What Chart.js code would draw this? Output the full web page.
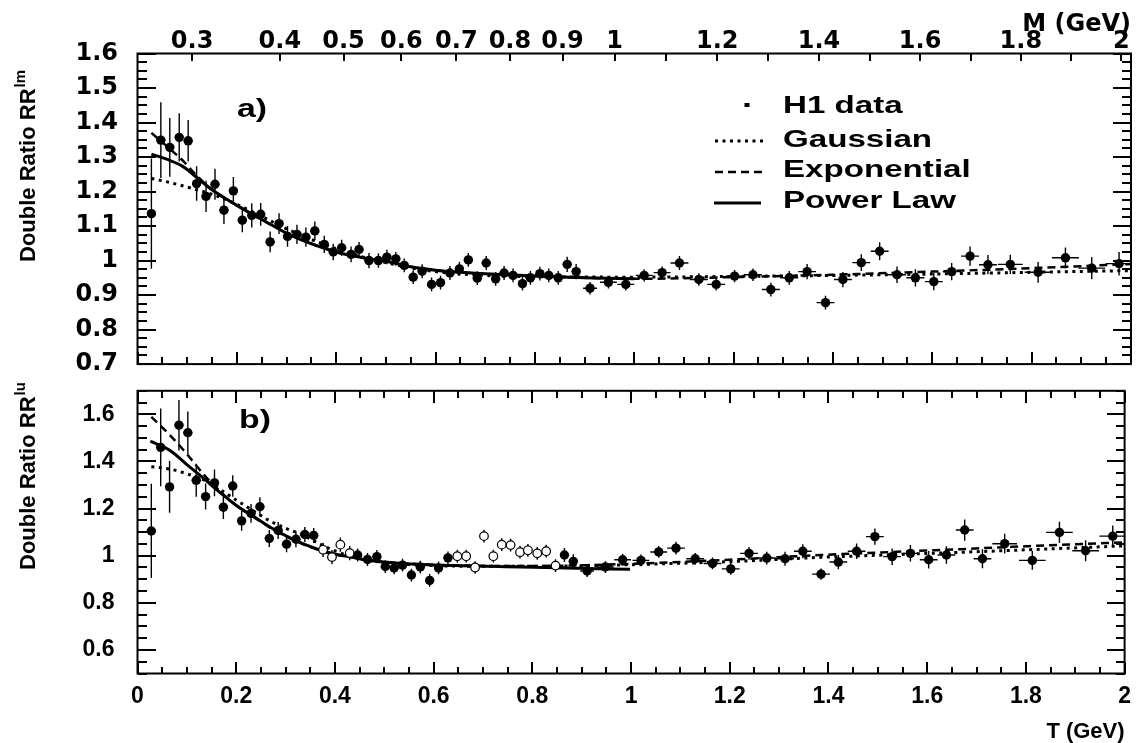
<!DOCTYPE html>
<html>
<head>
<meta charset="utf-8">
<script src="https://cdn.jsdelivr.net/npm/chart.js@4"></script>
<style>
html, body { margin: 0; padding: 0; background: #fff; }
#wrap { position: relative; width: 1140px; height: 743px; overflow: hidden; }
#ca { position: absolute; left: 0; top: 0; }
#cb { position: absolute; left: 0; top: 354px; }
</style>
</head>
<body>
<div id="wrap">
  <canvas id="ca" width="1140" height="398"></canvas>
  <canvas id="cb" width="1140" height="389"></canvas>
</div>
<script>
// bin centres in T (GeV) and half widths, shared by both panels
var tBin = [0.028,0.047,0.065,0.084,0.102,0.119,0.138,0.156,0.174,0.193,
            0.211,0.230,0.248,0.267,0.285,0.302,0.321,0.339,0.357,0.376,
            0.394,0.411,0.430,0.446,0.466,0.485,0.502,0.520,0.537,0.555,
            0.573,0.592,0.610,0.629,0.648,0.666,0.684,0.702,0.721,0.738,
            0.756,0.775,0.791,0.810,0.828,0.847,0.865,0.883,0.911,0.948,
            0.983,1.020,1.056,1.091,1.130,1.165,1.202,1.239,1.275,1.312,
            1.348,1.385,1.420,1.457,1.494,1.529,1.566,1.603,1.639,1.676,
            1.712,1.757,1.813,1.868,1.921,1.976];
var tHalf = [0.009,0.009,0.009,0.009,0.009,0.009,0.009,0.009,0.009,0.009,
             0.009,0.009,0.009,0.009,0.009,0.009,0.009,0.009,0.009,0.009,
             0.009,0.009,0.009,0.009,0.009,0.009,0.009,0.009,0.009,0.009,
             0.009,0.009,0.009,0.009,0.009,0.009,0.009,0.009,0.009,0.009,
             0.009,0.009,0.009,0.009,0.009,0.009,0.009,0.009,0.014,0.017,
             0.017,0.017,0.017,0.018,0.018,0.018,0.018,0.018,0.018,0.018,
             0.018,0.018,0.018,0.018,0.018,0.018,0.018,0.018,0.018,0.018,
             0.018,0.025,0.027,0.027,0.027,0.027];

// panel a) RR^lm
var rrLm = [1.136,1.349,1.328,1.357,1.347,1.223,1.186,1.221,1.146,1.202,
            1.117,1.131,1.134,1.054,1.107,1.070,1.076,1.068,1.086,1.047,
            1.025,1.037,1.018,1.032,1.000,1.000,1.010,1.005,0.986,0.952,
            0.969,0.931,0.936,0.964,0.976,1.002,0.949,0.993,0.947,0.964,
            0.957,0.933,0.950,0.962,0.957,0.950,0.989,0.968,0.920,0.937,
            0.931,0.957,0.965,0.993,0.945,0.931,0.955,0.959,0.916,0.950,
            0.968,0.878,0.945,0.994,1.027,0.959,0.950,0.939,0.968,1.013,
            0.988,0.989,0.966,1.008,0.978,0.991];
var rrLmErr = [0.16,0.11,0.085,0.07,0.06,0.05,0.045,0.045,0.04,0.04,
               0.035,0.035,0.033,0.03,0.03,0.03,0.028,0.028,0.027,0.025,
               0.024,0.023,0.023,0.022,0.022,0.021,0.021,0.02,0.02,0.02,
               0.02,0.02,0.02,0.02,0.02,0.02,0.02,0.02,0.02,0.02,
               0.02,0.02,0.02,0.02,0.02,0.02,0.022,0.022,0.018,0.018,
               0.018,0.018,0.018,0.02,0.018,0.018,0.018,0.018,0.02,0.02,
               0.022,0.02,0.022,0.024,0.026,0.024,0.025,0.025,0.025,0.028,
               0.028,0.028,0.03,0.03,0.032,0.034];

// panel b) RR^lu, open = 1 for the hollow markers
var rrLu = [1.105,1.460,1.292,1.554,1.522,1.320,1.251,1.309,1.206,1.296,
            1.148,1.180,1.208,1.073,1.107,1.049,1.070,1.090,1.086,1.025,
            0.994,1.047,1.011,1.003,0.984,0.996,0.954,0.948,0.960,0.918,
            0.952,0.895,0.948,0.991,0.998,0.998,0.950,1.083,0.998,1.047,
            1.045,1.015,1.023,1.010,1.019,0.958,1.003,0.976,0.935,0.952,
            0.983,0.980,1.016,1.032,0.987,0.967,0.944,1.010,0.990,0.987,
            1.019,0.922,0.973,1.019,1.081,0.996,1.010,0.983,1.003,1.109,
            0.987,1.051,0.980,1.099,1.021,1.083];
var rrLuErr = [0.2,0.165,0.11,0.107,0.09,0.07,0.055,0.057,0.05,0.046,
               0.042,0.04,0.04,0.036,0.036,0.034,0.034,0.032,0.032,0.03,
               0.03,0.03,0.03,0.028,0.028,0.028,0.027,0.027,0.027,0.027,
               0.027,0.027,0.027,0.027,0.027,0.027,0.027,0.027,0.027,0.027,
               0.027,0.027,0.027,0.027,0.027,0.027,0.03,0.03,0.025,0.025,
               0.025,0.025,0.025,0.027,0.025,0.025,0.025,0.027,0.027,0.03,
               0.03,0.024,0.03,0.033,0.035,0.035,0.035,0.037,0.037,0.045,
               0.04,0.042,0.04,0.045,0.045,0.045];
var luOpen = [0,0,0,0,0,0,0,0,0,0, 0,0,0,0,0,0,0,0,0,1,
              1,1,1,0,0,0,0,0,0,0, 0,0,0,0,1,1,1,1,1,1,
              1,1,1,1,1,1,0,0,0,0, 0,0,0,0,0,0,0,0,0,0,
              0,0,0,0,0,0,0,0,0,0, 0,0,0,0,0,0];

// fitted curves
var gaussLmT = [0.028,0.06,0.1,0.154,0.2,0.25,0.3,0.35,0.4,0.45,0.5,0.55,0.6,0.7,0.8,1.0,1.2,1.4,1.6,1.8,2.0];
var gaussLm  = [1.238,1.228,1.213,1.19,1.163,1.128,1.092,1.061,1.034,1.012,0.994,0.979,0.968,0.957,0.953,0.952,0.954,0.957,0.961,0.966,0.971];
var expoLmT  = [0.028,0.06,0.091,0.12,0.15,0.2,0.235,0.27,0.302,0.335,0.369,0.4,0.436,0.47,0.503,0.55,0.6,0.65,0.72,0.8,0.9,1.0,1.2,1.4,1.6,1.8,2.0];
var expoLm   = [1.37,1.33,1.29,1.245,1.205,1.16,1.131,1.103,1.078,1.057,1.039,1.025,1.013,1.004,0.997,0.982,0.972,0.966,0.96,0.955,0.95,0.947,0.952,0.959,0.968,0.978,0.99];
var powerLmT = [0.028,0.06,0.091,0.12,0.15,0.2,0.235,0.27,0.302,0.335,0.369,0.4,0.436,0.47,0.503,0.55,0.6,0.65,0.72,0.8,0.9,1.0];
var powerLm  = [1.308,1.293,1.273,1.24,1.205,1.16,1.131,1.103,1.078,1.057,1.039,1.025,1.013,1.004,0.997,0.982,0.972,0.966,0.96,0.955,0.95,0.947];

var gaussLuT = [0.028,0.067,0.1,0.134,0.168,0.201,0.235,0.268,0.302,0.335,0.369,0.402,0.436,0.47,0.537,0.6,0.7,0.8,0.9,1.0,1.2,1.385,1.635,1.8,2.0];
var gaussLu  = [1.378,1.367,1.348,1.322,1.28,1.235,1.19,1.148,1.115,1.088,1.05,1.019,0.995,0.98,0.965,0.958,0.955,0.955,0.957,0.962,0.975,0.993,1.012,1.025,1.042];
var expoLuT  = [0.028,0.067,0.1,0.134,0.168,0.201,0.235,0.268,0.302,0.335,0.369,0.402,0.436,0.47,0.537,0.643,0.777,0.911,1.02,1.2,1.385,1.635,1.8,2.0];
var expoLu   = [1.589,1.509,1.432,1.345,1.272,1.212,1.165,1.12,1.081,1.049,1.023,1.005,0.992,0.981,0.968,0.959,0.956,0.96,0.967,0.983,1.003,1.025,1.04,1.057];
var powerLuT = [0.026,0.067,0.1,0.134,0.168,0.201,0.235,0.268,0.302,0.335,0.369,0.402,0.436,0.47,0.537,0.643,0.777,0.911,0.998];
var powerLu  = [1.486,1.445,1.387,1.328,1.267,1.212,1.167,1.122,1.083,1.051,1.025,1.006,0.993,0.98,0.967,0.958,0.952,0.946,0.942];

// axis labels
var tLabels = [0,0.2,0.4,0.6,0.8,1,1.2,1.4,1.6,1.8,2];
var yLabelsLm = [0.7,0.8,0.9,1,1.1,1.2,1.3,1.4,1.5,1.6];
var yLabelsLu = [0.6,0.8,1,1.2,1.4,1.6];
var mLabels = [0.3,0.4,0.5,0.6,0.7,0.8,0.9,1,1.2,1.4,1.6,1.8,2];
var mMinor = [1.1,1.3,1.5,1.7,1.9];
var mPi = 0.13957;

function mToT(m) { return Math.sqrt(m * m - 4 * mPi * mPi); }

function points(xs, ys, es, hs, keep) {
    var out = [];
    xs.forEach(function (x, i) {
        if (keep && !keep(i)) return;
        out.push({ x: x, y: ys[i], ey: es[i], ex: hs[i] });
    });
    return out;
}

function curve(xs, ys, dash, w) {
    return {
        data: xs.map(function (x, i) { return { x: x, y: ys[i] }; }),
        showLine: true, pointRadius: 0, borderColor: '#000', backgroundColor: '#000',
        borderWidth: w, borderDash: dash, borderCapStyle: 'butt',
        cubicInterpolationMode: 'monotone', fill: false
    };
}

function stretchText(ctx, text, x, y, sx) {
    ctx.save();
    ctx.translate(x, y);
    ctx.scale(sx, 1);
    ctx.fillText(text, 0, 0);
    ctx.restore();
}

// error bars, frame, inward ticks, panel tag, y title and legend
function panelDecor(cfg) {
    return {
        id: 'panelDecor',
        beforeDatasetsDraw: function (chart) {
            var ctx = chart.ctx, xs = chart.scales.x, ys = chart.scales.y, a = chart.chartArea;
            ctx.save();
            ctx.beginPath();
            ctx.rect(a.left, a.top, a.right - a.left, a.bottom - a.top);
            ctx.clip();
            ctx.strokeStyle = '#000';
            ctx.lineWidth = 1.4;
            chart.data.datasets.forEach(function (ds) {
                if (!ds.bars) return;
                ds.data.forEach(function (p) {
                    var px = xs.getPixelForValue(p.x), py = ys.getPixelForValue(p.y);
                    ctx.beginPath();
                    ctx.moveTo(px, ys.getPixelForValue(p.y - p.ey));
                    ctx.lineTo(px, ys.getPixelForValue(p.y + p.ey));
                    ctx.moveTo(xs.getPixelForValue(p.x - p.ex), py);
                    ctx.lineTo(xs.getPixelForValue(p.x + p.ex), py);
                    ctx.stroke();
                });
            });
            ctx.restore();
        },
        afterDraw: function (chart) {
            var ctx = chart.ctx, a = chart.chartArea;
            var L = a.left, R = a.right, T = a.top, B = a.bottom;
            ctx.save();
            ctx.fillStyle = '#000';
            ctx.textBaseline = 'alphabetic';
            ctx.textAlign = 'left';
            ctx.font = 'bold 26px "Liberation Sans"';
            stretchText(ctx, cfg.tag, cfg.tagX, cfg.tagY, 1.3);

            ctx.save();
            ctx.translate(cfg.titleX, cfg.titleY);
            ctx.rotate(-Math.PI / 2);
            ctx.font = 'bold 22px "Liberation Sans"';
            ctx.fillText('Double Ratio RR', 0, 0);
            var w = ctx.measureText('Double Ratio RR').width;
            ctx.font = 'bold 15px "Liberation Sans"';
            ctx.fillText(cfg.sup, w + 1, -10);
            ctx.restore();

            if (cfg.legend) {
                ctx.font = 'bold 24px "Liberation Sans"';
                stretchText(ctx, 'H1 data', 783, 113, 1.38);
                stretchText(ctx, 'Gaussian', 783, 147, 1.38);
                stretchText(ctx, 'Exponential', 783, 177, 1.38);
                stretchText(ctx, 'Power Law', 783, 208, 1.38);
                ctx.fillRect(744.5, 103, 5, 4);
                ctx.strokeStyle = '#000';
                ctx.lineCap = 'butt';
                ctx.lineWidth = 3;
                ctx.setLineDash([3, 4.5]);
                ctx.beginPath(); ctx.moveTo(715, 141); ctx.lineTo(764, 141); ctx.stroke();
                ctx.lineWidth = 2.5;
                ctx.setLineDash([8, 5]);
                ctx.beginPath(); ctx.moveTo(715, 172); ctx.lineTo(763, 172); ctx.stroke();
                ctx.lineWidth = 3;
                ctx.setLineDash([]);
                ctx.beginPath(); ctx.moveTo(714, 203); ctx.lineTo(761, 203); ctx.stroke();
            }

            // inward ticks, placed by linear mapping over the plot frame
            var ySpan = cfg.yMax - cfg.yMin;
            var nY = Math.round(ySpan / cfg.yStep);
            for (var i = 0; i <= nY; i++) {
                var v = cfg.yMin + i * cfg.yStep;
                var yy = Math.round(B - (B - T) * (v - cfg.yMin) / ySpan);
                var len = 9;
                for (var k = 0; k < cfg.yMajor.length; k++) {
                    if (Math.abs(cfg.yMajor[k] - v) < 1e-6) len = 18;
                }
                ctx.fillRect(Math.round(L), yy - 1, len, 2);
                ctx.fillRect(Math.round(R) - len, yy - 1, len, 2);
            }
            for (var j = 0; j <= 40; j++) {
                var xx = Math.round(L + (R - L) * j / 40);
                var tl = (j % 4 === 0) ? 12 : 7;
                if (cfg.bottom) ctx.fillRect(xx - 1, Math.round(B) - tl, 2, tl);
                if (cfg.topT) ctx.fillRect(xx - 1, Math.round(T), 2, tl);
            }
            if (cfg.topM) {
                var mAll = mLabels.concat(mMinor);
                for (var q = 0; q < mAll.length; q++) {
                    var mx = Math.round(L + (R - L) * mToT(mAll[q]) / 2);
                    ctx.fillRect(mx - 1, Math.round(T), 2, 7);
                }
            }
            ctx.strokeStyle = '#000';
            ctx.setLineDash([]);
            ctx.lineWidth = 2;
            ctx.strokeRect(L, T, R - L, B - T);
            ctx.restore();
        }
    };
}

var wideFont = { family: 'DejaVu Sans', weight: 'bold', size: 24 };
var plainFont = { family: 'Liberation Sans', weight: 'bold', size: 23 };

function yScale(min, max, labels, pad, font) {
    return {
        type: 'linear', min: min, max: max,
        grid: { display: false, drawTicks: false }, border: { display: false },
        afterBuildTicks: function (s) { s.ticks = labels.map(function (v) { return { value: v }; }); },
        ticks: { autoSkip: false, padding: pad, color: '#000', font: font,
                 callback: function (v) { return String(v); } },
        afterFit: function (s) { s.width = 137.5; }
    };
}

var chartA = new Chart(document.getElementById('ca'), {
    type: 'scatter',
    data: {
        datasets: [
            { data: points(tBin, rrLm, rrLmErr, tHalf), bars: true, pointRadius: 4.7, pointHoverRadius: 4.7,
              backgroundColor: '#000', borderColor: '#000', borderWidth: 0 },
            curve(gaussLmT, gaussLm, [3, 4.5], 3),
            curve(expoLmT, expoLm, [8, 5], 2.5),
            curve(powerLmT, powerLm, [], 3)
        ]
    },
    options: {
        responsive: false, animation: false, events: [],
        layout: { padding: { left: 0, right: 9, top: 0, bottom: 0 } },
        plugins: { legend: { display: false }, tooltip: { enabled: false } },
        scales: {
            x: { type: 'linear', min: 0, max: 2, display: false },
            m: {
                type: 'linear', position: 'top', min: 0, max: 2,
                grid: { display: false, drawTicks: false }, border: { display: false },
                afterBuildTicks: function (s) { s.ticks = mLabels.map(function (m) { return { value: mToT(m) }; }); },
                ticks: { autoSkip: false, maxRotation: 0, minRotation: 0, padding: -3, color: '#000', font: wideFont,
                         callback: function (v, i) { return String(mLabels[i]); } },
                title: { display: true, text: 'M (GeV)', align: 'end', color: '#000', padding: { top: 10, bottom: 0 },
                         font: { family: 'DejaVu Sans', weight: 'bold', size: 24, lineHeight: 1.2 } },
                afterFit: function (s) { s.height = 53.5; }
            },
            y: yScale(0.7, 1.6, yLabelsLm, 19.5, wideFont)
        }
    },
    plugins: [
        panelDecor({ yMin: 0.7, yMax: 1.6, yStep: 0.025, yMajor: yLabelsLm, bottom: true, topM: true,
                     tag: 'a)', tagX: 237, tagY: 117, titleX: 35, titleY: 262, sup: 'lm', legend: true })
    ]
});

var chartB = new Chart(document.getElementById('cb'), {
    type: 'scatter',
    data: {
        datasets: [
            { data: points(tBin, rrLu, rrLuErr, tHalf, function (i) { return !luOpen[i]; }), bars: true,
              pointRadius: 4.7, pointHoverRadius: 4.7, backgroundColor: '#000', borderColor: '#000', borderWidth: 0 },
            { data: points(tBin, rrLu, rrLuErr, tHalf, function (i) { return luOpen[i]; }), bars: true,
              pointRadius: 4.3, pointHoverRadius: 4.3, backgroundColor: '#fff', borderColor: '#000', borderWidth: 1.2 },
            curve(gaussLuT, gaussLu, [3, 4.5], 3),
            curve(expoLuT, expoLu, [8, 5], 2.5),
            curve(powerLuT, powerLu, [], 3)
        ]
    },
    options: {
        responsive: false, animation: false, events: [],
        layout: { padding: { left: 0, right: 9, top: 10, bottom: 0 } },
        plugins: { legend: { display: false }, tooltip: { enabled: false } },
        scales: {
            x: {
                type: 'linear', min: 0, max: 2, position: 'bottom',
                grid: { display: false, drawTicks: false }, border: { display: false },
                afterBuildTicks: function (s) { s.ticks = tLabels.map(function (v) { return { value: v }; }); },
                ticks: { autoSkip: false, maxRotation: 0, minRotation: 0, padding: 9, color: '#000', font: plainFont,
                         callback: function (v) { return String(v); } },
                title: { display: true, text: 'T (GeV)', align: 'end', color: '#000', padding: 0,
                         font: { family: 'Liberation Sans', weight: 'bold', size: 22, lineHeight: 1 } },
                afterFit: function (s) { s.height = 69.5; }
            },
            y: yScale(0.5, 1.7, yLabelsLu, 23, plainFont)
        }
    },
    plugins: [
        panelDecor({ yMin: 0.5, yMax: 1.7, yStep: 0.05, yMajor: yLabelsLu, bottom: true, topT: true,
                     tag: 'b)', tagX: 239, tagY: 74, titleX: 35, titleY: 216, sup: 'lu', legend: false })
    ]
});
</script>
</body>
</html>
